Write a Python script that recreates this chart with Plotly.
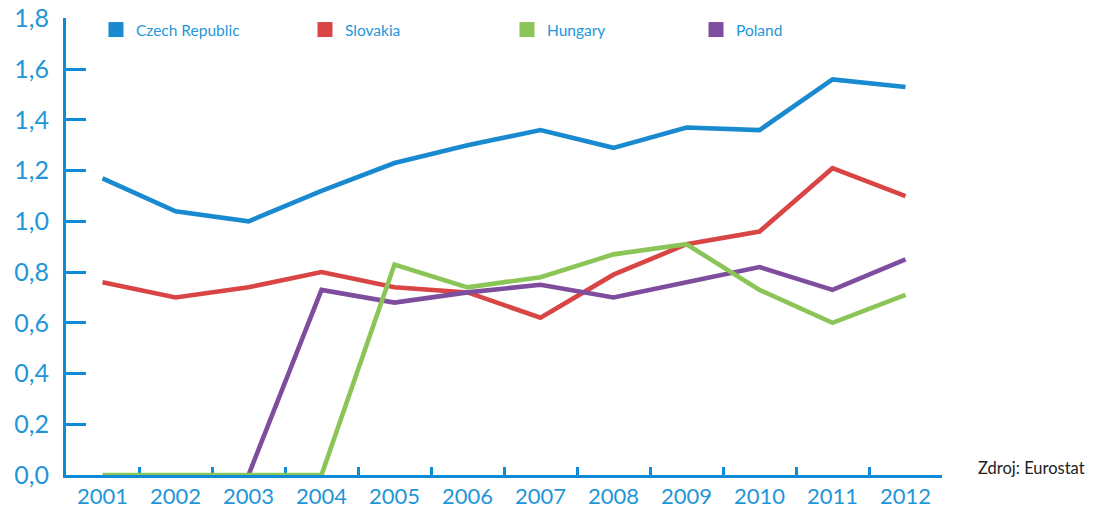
import plotly.graph_objects as go

years = ["2001", "2002", "2003", "2004", "2005", "2006", "2007", "2008", "2009", "2010", "2011", "2012"]
czech = [1.17, 1.04, 1.00, 1.12, 1.23, 1.30, 1.36, 1.29, 1.37, 1.36, 1.56, 1.53]
slovakia = [0.76, 0.70, 0.74, 0.80, 0.74, 0.72, 0.62, 0.79, 0.91, 0.96, 1.21, 1.10]
hungary = [0.0, 0.0, 0.0, 0.0, 0.83, 0.74, 0.78, 0.87, 0.91, 0.73, 0.60, 0.71]
poland = [None, None, 0.0, 0.73, 0.68, 0.72, 0.75, 0.70, 0.76, 0.82, 0.73, 0.85]
y_ticks = [0, 0.2, 0.4, 0.6, 0.8, 1.0, 1.2, 1.4, 1.6, 1.8]

series = [
    ("Czech Republic", czech, "#1a8ad0", "legend"),
    ("Slovakia", slovakia, "#d94545", "legend2"),
    ("Poland", poland, "#7f4d9e", "legend4"),
    ("Hungary", hungary, "#8bc557", "legend3"),
]
legend_x = {"legend": 0.0342, "legend2": 0.2728, "legend3": 0.5034, "legend4": 0.7192}

axis_color = "#0d8bd6"
label_color = "#1f96d8"

fig = go.Figure()
for name, vals, color, lg in series:
    fig.add_trace(go.Scatter(x=years, y=vals, mode="lines", name=name,
                             line=dict(color=color, width=4.6), showlegend=False,
                             hoverinfo="x+y+name"))
for name, vals, color, lg in series:
    fig.add_trace(go.Scatter(x=[None], y=[None], mode="markers", name=name,
                             marker=dict(symbol="square", size=15, color=color),
                             legend=lg, showlegend=True))

legend_style = dict(orientation="h", y=1.011, xanchor="left", yanchor="top",
                    font=dict(family="Lato", size=15.5, color=label_color),
                    bgcolor="rgba(0,0,0,0)")

fig.update_layout(
    width=1091, height=498,
    margin=dict(l=58, r=157, t=10, b=31, autoexpand=False),
    paper_bgcolor="white", plot_bgcolor="white",
    separators=", ",
    showlegend=True,
    legend=dict(x=legend_x["legend"], **legend_style),
    legend2=dict(x=legend_x["legend2"], **legend_style),
    legend3=dict(x=legend_x["legend3"], **legend_style),
    legend4=dict(x=legend_x["legend4"], **legend_style),
    xaxis=dict(type="category", categoryorder="array", categoryarray=years,
               range=[-0.5, 11.5], tickson="boundaries", automargin=False,
               ticklabeloverflow="allow",
               showline=True, linecolor=axis_color, linewidth=3,
               ticks="inside", ticklen=8, tickwidth=3, tickcolor=axis_color,
               showgrid=False, zeroline=False, layer="below traces",
               tickfont=dict(family="Lato", size=22, color=label_color)),
    yaxis=dict(range=[0, 1.802], tickvals=y_ticks,
               tickformat=".1f", automargin=False,
               ticklabeloverflow="allow",
               showline=True, linecolor=axis_color, linewidth=3,
               ticks="inside", ticklen=20, tickwidth=3, tickcolor=axis_color,
               showgrid=False, zeroline=False, layer="below traces",
               ticklabelstandoff=9,
               tickfont=dict(family="Lato", size=25, color=label_color)),
    annotations=[dict(text="Zdroj: Eurostat", xref="paper", yref="paper",
                      x=1.0388, y=0.0153, xanchor="left", yanchor="middle",
                      showarrow=False, font=dict(family="Lato", size=16.5, color="#222222"))],
)

fig.write_html("out.html")
